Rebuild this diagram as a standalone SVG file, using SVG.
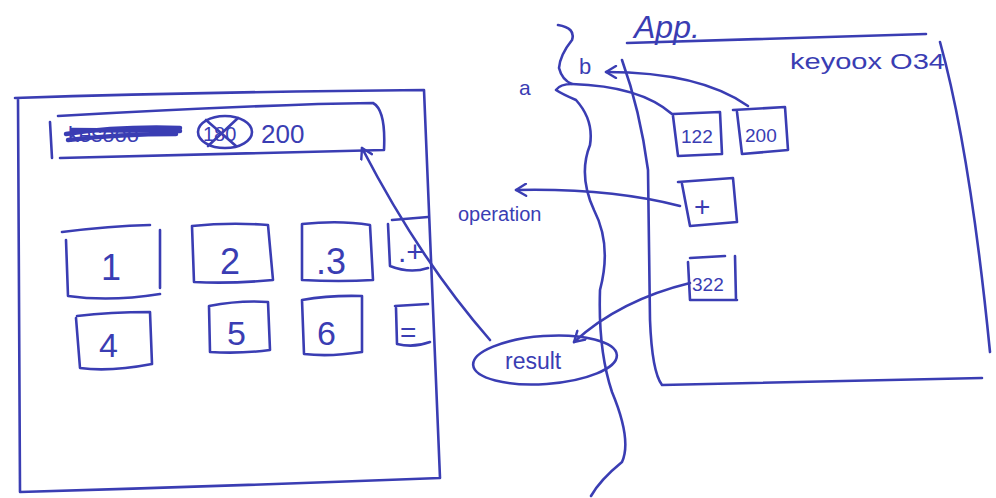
<svg xmlns="http://www.w3.org/2000/svg" width="996" height="498" viewBox="0 0 996 498">
<defs>
<style>
.s{fill:none;stroke:#3a3db3;stroke-width:2.6;stroke-linecap:round;stroke-linejoin:round}
.t{fill:#3a3db3;font-family:"Liberation Sans",Arial,sans-serif}
</style>
<marker id="ah" viewBox="0 0 14 14" refX="12" refY="7" markerWidth="14" markerHeight="14" markerUnits="userSpaceOnUse" orient="auto">
<path d="M2,1 L12,7 L2,13" fill="none" stroke="#3a3db3" stroke-width="2.4" stroke-linecap="round" stroke-linejoin="round"/>
</marker>
</defs>
<rect width="996" height="498" fill="#ffffff"/>

<g id="left-panel">
<path class="s" d="M15,98 Q200,92 424,90 L440,478 Q230,486 20,492 L18,98"/>
</g>

<g id="display">
<path class="s" d="M50,122 L52,158 M58,116 Q200,108 318,104 L373,103 Q386,110 384,150 Q230,154 60,158"/>
<text class="t" x="68" y="142" font-size="22">kesooo</text>
<path class="s" style="stroke-width:4.5" d="M66,134 Q120,126 180,128 M68,140 Q120,134 176,134 M72,130 L180,131"/>
<ellipse class="s" cx="225" cy="132" rx="27" ry="16"/>
<text class="t" x="203" y="141" font-size="20">180</text>
<path class="s" d="M206,120 L236,146 M238,118 L208,146"/>
<text class="t" x="261" y="143" font-size="26">200</text>
</g>

<g id="btn1"><path class="s" d="M62,232 Q110,226 150,225 M66,240 L68,296 Q110,302 160,294 M160,230 L160,288"/><text class="t" x="101" y="280" font-size="36">1</text></g>
<g id="btn2"><path class="s" d="M192,226 Q230,222 268,225 L273,280 Q230,284 194,282 Z"/><text class="t" x="220" y="274" font-size="36">2</text></g>
<g id="btn3"><path class="s" d="M302,224 Q340,220 370,225 L373,280 Q340,282 302,280 Z"/><text class="t" x="316" y="274" font-size="36">.3</text></g>
<g id="btnplus"><path class="s" d="M392,220 L428,217 M388,224 L390,266 Q410,274 428,268"/><text class="t" x="398" y="262" font-size="30">.+</text></g>
<g id="btn4"><path class="s" d="M77,316 Q110,312 150,312 L152,364 Q110,372 80,368 L76,318"/><text class="t" x="99" y="357" font-size="34">4</text></g>
<g id="btn5"><path class="s" d="M209,306 Q240,300 268,302 L270,350 Q240,354 210,352 Z"/><text class="t" x="227" y="345" font-size="34">5</text></g>
<g id="btn6"><path class="s" d="M302,300 Q330,295 362,296 L362,352 Q330,357 304,354 Z"/><text class="t" x="317" y="345" font-size="34">6</text></g>
<g id="btneq"><path class="s" d="M395,306 L428,304 M396,308 L397,344 Q414,348 430,342"/><text class="t" x="400" y="342" font-size="28">=</text></g>

<g id="divider">
<path class="s" d="M558,25 Q576,28 572,40 Q560,55 559,68 Q562,80 572,84 Q560,84 556,90 Q562,94 576,100 Q594,120 590,145 Q578,175 594,210 Q612,245 600,290 Q598,350 612,392 Q632,440 622,462 Q600,480 591,496"/>
</g>

<g id="right-panel">
<path class="s" d="M627,43 Q780,38 926,34"/>
<path class="s" d="M622,60 Q640,110 648,170 L650,320 Q652,372 662,385 Q820,381 982,378"/>
<path class="s" d="M940,42 Q970,150 990,352"/>
<text class="t" x="634" y="38" font-size="32" font-style="italic">App.</text>
<text class="t" x="790" y="69" font-size="22" textLength="155" lengthAdjust="spacingAndGlyphs">keyoox O34</text>
</g>

<g id="var-a"><text class="t" x="519" y="95" font-size="21">a</text></g>
<g id="var-b"><text class="t" x="579" y="74" font-size="22">b</text></g>

<g id="box122"><path class="s" d="M673,114 L720,112 L722,154 L678,156 L673,116"/><text class="t" x="681" y="143" font-size="19">122</text></g>
<g id="box200"><path class="s" d="M733,110 L785,107 L788,150 L742,154 L737,112"/><text class="t" x="745" y="142" font-size="19">200</text></g>
<g id="boxop"><path class="s" d="M678,182 L733,178 L737,222 L690,226 L682,184"/><text class="t" x="694" y="216" font-size="28">+</text></g>
<g id="box322"><path class="s" d="M690,258 L725,256 M688,262 L690,300 L737,300 M735,256 L736,300"/><text class="t" x="692" y="291" font-size="19">322</text></g>

<g id="result"><ellipse class="s" cx="545" cy="360" rx="72" ry="24" transform="rotate(-4 545 360)"/><text class="t" x="505" y="369" font-size="23">result</text></g>

<g id="operation-label"><text class="t" x="458" y="221" font-size="20">operation</text></g>

<g id="connectors">
<path class="s" d="M672,114 Q640,86 572,84"/>
<path class="s" d="M748,106 Q700,72 606,72" marker-end="url(#ah)"/>
<path class="s" d="M680,206 Q610,188 516,190" marker-end="url(#ah)"/>
<path class="s" d="M690,283 Q620,300 574,342" marker-end="url(#ah)"/>
<path class="s" d="M490,340 Q420,260 362,148" marker-end="url(#ah)"/>
</g>
</svg>
